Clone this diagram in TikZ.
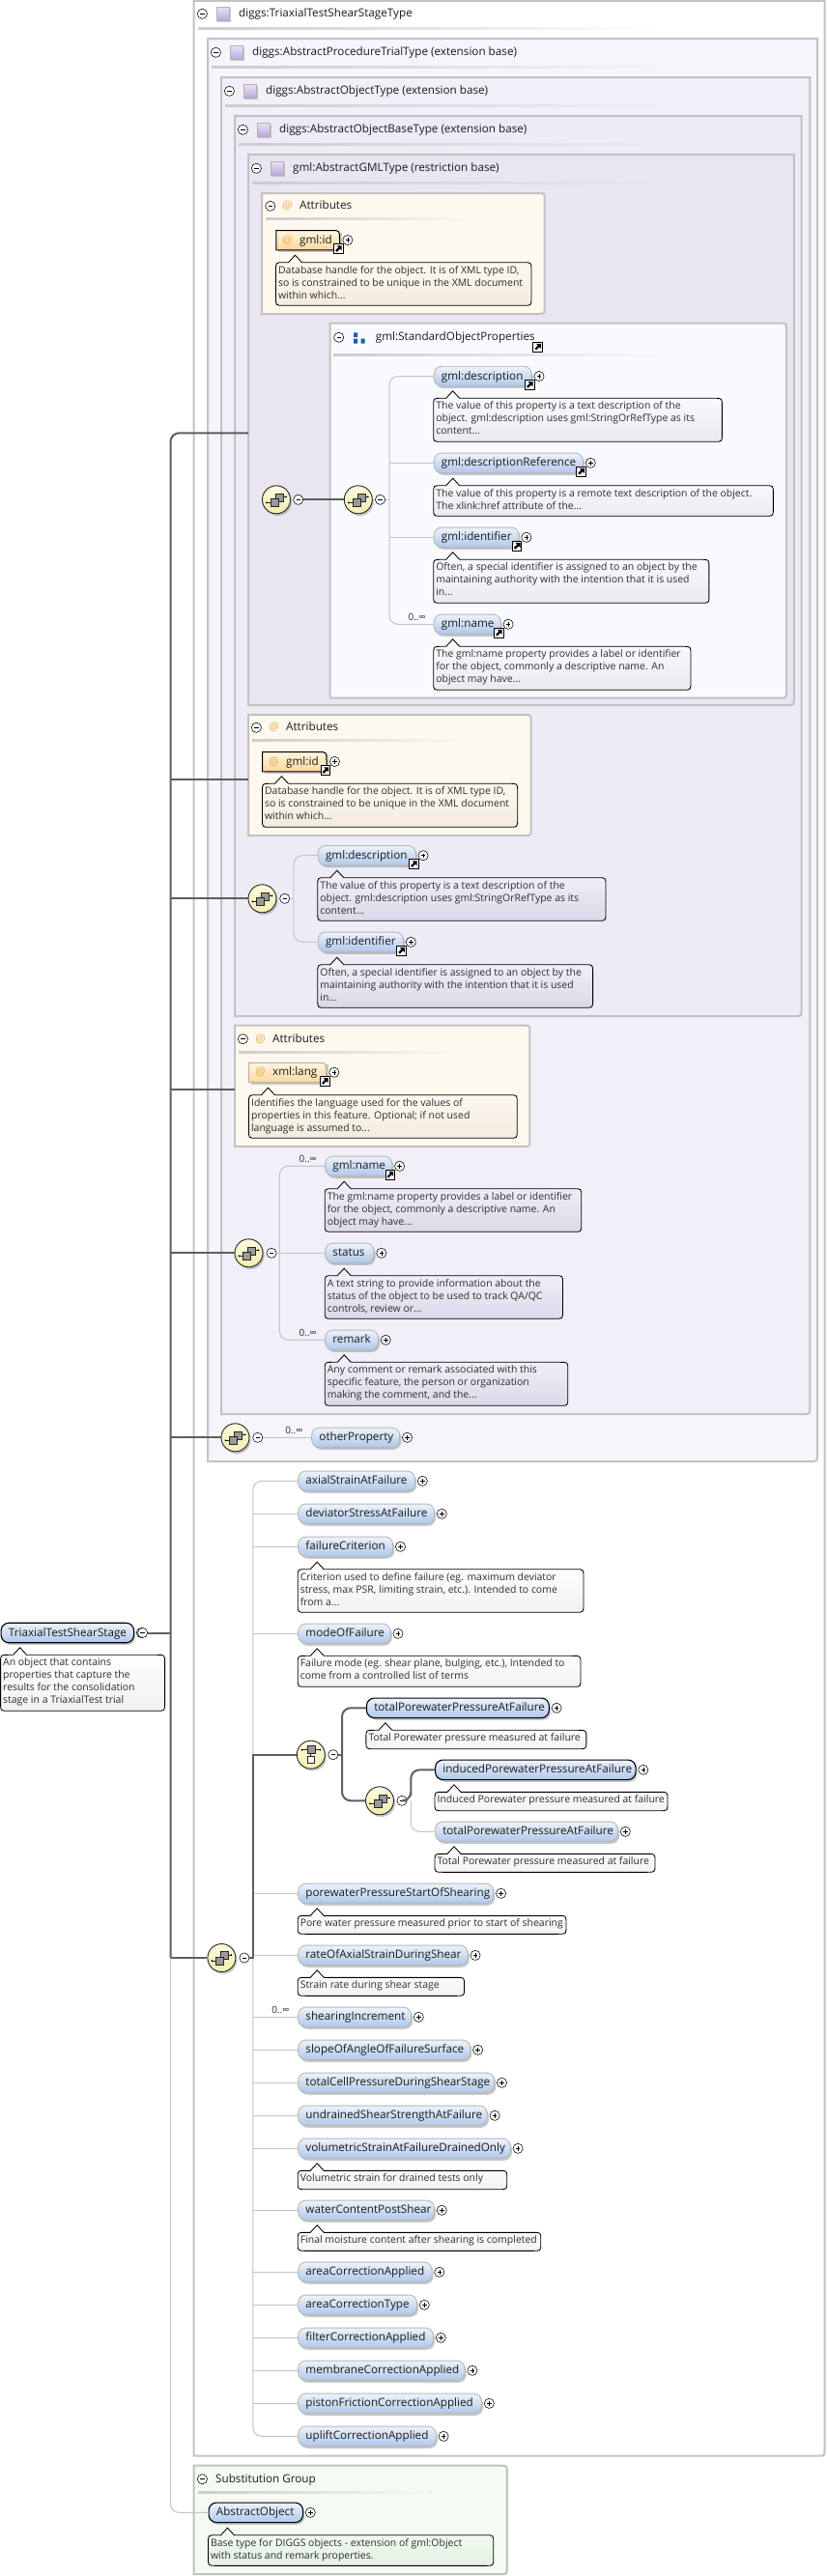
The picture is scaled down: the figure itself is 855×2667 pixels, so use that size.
\documentclass[tikz,border=0pt]{standalone}
\usepackage{fontspec}
\setmainfont{Open Sans}
\usetikzlibrary{shadows}
\definecolor{panelline}{HTML}{C2C2C2}
\definecolor{liteline}{HTML}{C4C4C4}
\definecolor{darkline}{HTML}{5E5E5E}
\definecolor{bgA}{HTML}{F6F5FB}
\definecolor{bgB}{HTML}{F1EFF8}
\definecolor{bgC}{HTML}{EDEBF5}
\definecolor{bgD}{HTML}{E9E6F2}
\definecolor{bgSop}{HTML}{F9FAFE}
\definecolor{bgAttr}{HTML}{FEF9EF}
\definecolor{bgSub}{HTML}{F3FBF3}
\definecolor{orangeAt}{HTML}{F0A84A}
\definecolor{bluesq}{HTML}{1D5FA8}
\definecolor{txt}{HTML}{1C1C1C}
\definecolor{doctxt}{HTML}{2E2E2E}
\newcommand{\hdrfont}{\fontsize{11.7}{13}\selectfont}
\newcommand{\docfont}{\fontsize{10.45}{13}\selectfont}
\tikzset{
  panelb/.style={draw=panelline,line width=2pt},
  lite/.style={draw=liteline,line width=1pt},
  dark/.style={draw=darkline,line width=2pt},
  softshadow/.style={drop shadow={shadow xshift=1.6pt,shadow yshift=-2.2pt,fill=black!55,opacity=.4}},
  elem/.style={rectangle,rounded corners=8pt,draw=black!28,line width=.9pt,
     anchor=west,inner xsep=7.8pt,inner ysep=0pt,minimum height=20.5pt,text height=9pt,text depth=2pt,align=left,font=\hdrfont,text=txt,softshadow},
  elemtone/.style={top color={rgb,255:red,238;green,243;blue,251},bottom color={rgb,255:red,174;green,199;blue,234}},
  req/.style={draw=black,line width=1.1pt},
  plusn/.style={circle,draw=black,fill=white,line width=.55pt,minimum size=10.2pt,inner sep=0pt,
     path picture={\draw[line width=.5pt,shift={(path picture bounding box.center)}] (-2.2,0)--(2.2,0) (0,-2.2)--(0,2.2);}},
  minusn/.style={circle,draw=black,fill=white,line width=.55pt,minimum size=10.2pt,inner sep=0pt,
     path picture={\draw[line width=.5pt,shift={(path picture bounding box.center)}] (-2.2,0)--(2.2,0);}},
  linkn/.style={rectangle,draw=black,fill=white,line width=.9pt,minimum size=9.6pt,inner sep=0pt,
     path picture={\begin{scope}[shift={(path picture bounding box.center)}]
        \fill[black] (3.4,-3.4)--(-1.6,-3.4)--(.1,-1.7)--(-3.2,1.6)--(-1.6,3.2)--(1.7,-.1)--(3.4,1.6)--cycle;\end{scope}}},
  hdr/.style={anchor=west,inner sep=0pt,font=\hdrfont,text=txt,text height=9pt,text depth=2pt},
  att/.style={anchor=center,inner sep=0pt,font=\hdrfont,text=orangeAt},
  occ/.style={anchor=center,inner sep=0pt,font=\fontsize{10}{11}\selectfont,text=doctxt},
  doct/.style={anchor=north west,inner sep=0pt,align=left,font=\docfont,text=doctxt},
  comp/.style={circle,draw=black!85,line width=.9pt,minimum size=29pt,inner sep=0pt,top color={rgb,255:red,253;green,251;blue,222},bottom color={rgb,255:red,243;green,237;blue,176},softshadow},
  seqicon/.style={path picture={\begin{scope}[shift={(path picture bounding box.center)}]
      \draw[line width=.7pt] (-10,3)--(-5,3) (5,-3)--(10,-3);
      \fill (-10,3) circle (1) (10,-3) circle (1);
      \draw[fill=black!40,line width=.5pt] (-1,-6.5) rectangle (7,1.5);
      \draw[fill=black!40,line width=.5pt] (-6,-1) rectangle (2,7);
      \end{scope}}},
  choiceicon/.style={path picture={\begin{scope}[shift={(path picture bounding box.center)}]
      \draw[line width=.7pt] (-9.5,-5)--(9.5,-5) (0,-1)--(0,2);
      \fill (-9.5,-5) circle (1) (9.5,-5) circle (1);
      \draw[fill=black!40,line width=.5pt] (-4,-9) rectangle (4,-1);
      \draw[fill=white,line width=.6pt] (-3.5,2) rectangle (3.5,9);
      \end{scope}}},
  doclav/.style={top color={rgb,255:red,243;green,241;blue,249},bottom color={rgb,255:red,221;green,216;blue,233}},
  docsop/.style={top color={rgb,255:red,251;green,252;blue,255},bottom color={rgb,255:red,232;green,234;blue,240}},
  docattr/.style={top color={rgb,255:red,255;green,251;blue,243},bottom color={rgb,255:red,243;green,235;blue,222}},
  docwhite/.style={top color=white,bottom color={rgb,255:red,242;green,242;blue,242}},
  docgreen/.style={top color={rgb,255:red,245;green,252;blue,245},bottom color={rgb,255:red,226;green,240;blue,226}},
  attrfill/.style={top color={rgb,255:red,255;green,246;blue,226},bottom color={rgb,255:red,252;green,215;blue,156}},
}
\newcommand{\Panel}[6]{%
  \path[panelb,fill=#6] (#2,#3)--(#4,#3)--(#4,{#5-7}) .. controls (#4,#5) .. ({#4-7},#5)--(#2,#5)--cycle;
  \node[inner sep=0pt,minimum width={(#4-#2)*1pt},minimum height={(#5-#3)*1pt},anchor=north west] (#1) at (#2,#3) {};}
\newcommand{\RPanel}[6]{%
  \path[panelb,fill=#6] (#2,#3)--({#4-7},#3) .. controls (#4,#3) .. (#4,{#3+7})--(#4,{#5-7}) .. controls (#4,#5) .. ({#4-7},#5)--(#2,#5)--cycle;
  \node[inner sep=0pt,minimum width={(#4-#2)*1pt},minimum height={(#5-#3)*1pt},anchor=north west] (#1) at (#2,#3) {};}
\newcommand{\Divider}[4]{\fill[left color=black!20,right color=#4] (#1,{#3-1}) rectangle (#2,{#3+1});}
\newcommand{\Elem}[6][]{%
  \node[elem,elemtone,#1,minimum width={(#4-#3)*1pt},text width={(#4-#3-15.6)*1pt}] (#2) at (#3,#5) {\mbox{#6}};
  \node[plusn] (#2p) at ({#4+8.3},#5) {};}
\newcommand{\ElemL}[6][]{%
  \Elem[#1]{#2}{#3}{#4}{#5}{#6}
  \node[linkn] (#2l) at ({#4-1.5},{#5+9}) {};}
\newcommand{\AttrElem}[8][black]{%
  \fill[black!50,opacity=.4] ({#3+2},{#5-8}) rectangle ({#4+2},{#5+12.5});
  \path[draw=#1,line width=1pt,attrfill] (#3,{#5-10})--({#4-9},{#5-10}) .. controls (#4,{#5-10}) .. (#4,{#5-1})--(#4,{#5+10.4})--(#3,{#5+10.4})--cycle;
  \node[att] (#2a) at (#6,#5) {@};
  \node[hdr] (#2) at (#7,#5) {#8};
  \node[plusn] (#2p) at ({#4+8.4},#5) {};
  \node[linkn] (#2l) at ({#4-1.2},{#5+9.2}) {};}
\newcommand{\Doc}[7][docwhite]{%
  \path[draw=black,line width=.85pt,#1] ({#3+8},#5)--({#3+13},#5)--({#3+20},{#5-7.5})--({#3+27},#5)--({#4-8},#5) .. controls (#4,#5) .. (#4,{#5+8})
     --(#4,{#6-8}) .. controls (#4,#6) .. ({#4-8},#6)--({#3+8},#6) .. controls (#3,#6) .. (#3,{#6-8})--(#3,{#5+8}) .. controls (#3,#5) .. cycle;
  \node[doct] (#2) at ({#3+2.4},{#5+3.3}) {#7};}
\newcommand{\Comp}[5][seqicon]{%
  \node[comp,#1] (#2) at (#3,#4) {};
  \node[minusn] (#2m) at (#5,#4) {};}
\begin{document}
\begin{tikzpicture}[x=1pt,y=-1pt]
\useasboundingbox (0,0) rectangle (855,2667);
\fill[white] (0,0) rectangle (855,2667);
\Panel{boxA}{200.6}{0.8}{853.5}{2542.7}{white}
\Divider{205}{690}{29}{white}
\node[minusn] (boxAm) at (209.4,14.3) {};
\node[hdr] (boxAt) at (247,14.3) {diggs:TriaxialTestShearStageType};
\Panel{boxB}{215}{40}{846}{1513}{bgA}
\Divider{219}{690}{69}{bgA}
\node[minusn] (boxBm) at (223.4,54.3) {};
\node[hdr] (boxBt) at (261,54.3) {diggs:AbstractProcedureTrialType (extension base)};
\Panel{boxC}{229}{80}{838.4}{1464}{bgB}
\Divider{233}{690}{109}{bgB}
\node[minusn] (boxCm) at (237.4,94.3) {};
\node[hdr] (boxCt) at (275,94.3) {diggs:AbstractObjectType (extension base)};
\Panel{boxD}{243}{120}{829.7}{1052}{bgC}
\Divider{247}{690}{149}{bgC}
\node[minusn] (boxDm) at (251.4,134.3) {};
\node[hdr] (boxDt) at (289,134.3) {diggs:AbstractObjectBaseType (extension base)};
\Panel{boxE}{257}{160}{821.8}{730}{bgD}
\Divider{261}{690}{189}{bgD}
\node[minusn] (boxEm) at (265.4,174.3) {};
\node[hdr] (boxEt) at (303,174.3) {gml:AbstractGMLType (restriction base)};
\foreach \ix/\iy in {230.8/14.3,244.8/54.3,258.8/94.3,272.8/134.3,286.8/174.3}{
  \fill[black!45,opacity=.45] ({\ix-5.5},{\iy-5}) rectangle ({\ix+8},{\iy+8.5});
  \path[draw=black!30,line width=.5pt,top color={rgb,255:red,232;green,226;blue,245},bottom color={rgb,255:red,186;green,170;blue,222}] ({\ix-6.5},{\iy-7}) rectangle ({\ix+6.5},{\iy+6.5});
}
\RPanel{attA}{271}{200}{563.7}{325}{bgAttr}
\Divider{275}{489}{226.7}{bgAttr}
\node[minusn] (attAm) at (279.8,213.3) {};
\node[att] (attAa) at (297.7,213.3) {@};
\node[hdr] (attAt) at (310,213.3) {Attributes};
\AttrElem{idA}{285.8}{351.5}{248.5}{297.7}{310}{gml:id}
\Doc[docattr]{idAd}{285.5}{550}{271.7}{316.3}{Database handle for the object. It is of XML type ID,\\so is constrained to be unique in the XML document\\within which...}
\RPanel{sop}{341.5}{334.7}{814}{722.7}{bgSop}
\Divider{345}{695}{367.7}{bgSop}
\node[minusn] (sopm) at (350.7,349.3) {};
\fill[bluesq] (366,344.3) rectangle (370.2,349) (366,350.7) rectangle (370.2,355.5) (373.5,350.7) rectangle (377.7,355.5);
\node[hdr] (sopt) at (388.7,349.3) {gml:StandardObjectProperties};
\node[linkn] (sopl) at (556.7,359.3) {};
\ElemL{sdesc}{448.7}{549.7}{389.5}{gml:description}
\Doc[docsop]{sdescd}{448.7}{747.4}{412.3}{457.3}{The value of this property is a text description of the\\object. gml:description uses gml:StringOrRefType as its\\content...}
\ElemL{sdref}{448.7}{603}{479.3}{gml:descriptionReference}
\Doc[docsop]{sdrefd}{448.7}{800.4}{502.7}{534.3}{The value of this property is a remote text description of the object.\\The xlink:href attribute of the...}
\ElemL{sident}{448.7}{536.6}{556.3}{gml:identifier}
\Doc[docsop]{sidentd}{448.7}{733.9}{579.3}{624.3}{Often, a special identifier is assigned to an object by the\\maintaining authority with the intention that it is used\\in...}
\ElemL{sname}{448.7}{517.8}{646.3}{gml:name}
\node[occ] (snameo) at (431.6,639) {0..∞};
\Doc[docsop]{snamed}{448.7}{715}{669.3}{714.3}{The gml:name property provides a label or identifier\\for the object, commonly a descriptive name. An\\object may have...}
\Comp{cA}{286}{517.3}{308.7}
\Comp{cB}{370.8}{517.3}{393.5}
\RPanel{attB}{257}{740}{549.7}{865}{bgAttr}
\Divider{261}{480}{766.7}{bgAttr}
\node[minusn] (attBm) at (265.4,753.3) {};
\node[att] (attBa) at (283.7,753.3) {@};
\node[hdr] (attBt) at (296,753.3) {Attributes};
\AttrElem{idB}{271.5}{338}{788.5}{283.7}{296}{gml:id}
\Doc[docattr]{idBd}{271.5}{535.7}{811.3}{856.3}{Database handle for the object. It is of XML type ID,\\so is constrained to be unique in the XML document\\within which...}
\Comp{cC}{271.5}{930.3}{294.7}
\ElemL{bdesc}{328.8}{429.8}{885.7}{gml:description}
\Doc[doclav]{bdescd}{328.8}{627}{908.7}{953.3}{The value of this property is a text description of the\\object. gml:description uses gml:StringOrRefType as its\\content...}
\ElemL{bident}{328.8}{417}{975.3}{gml:identifier}
\Doc[doclav]{bidentd}{328.8}{613.6}{998.7}{1043.3}{Often, a special identifier is assigned to an object by the\\maintaining authority with the intention that it is used\\in...}
\RPanel{attC}{243}{1061.7}{548.4}{1187}{bgAttr}
\Divider{247}{472}{1089}{bgAttr}
\node[minusn] (attCm) at (251.4,1075.7) {};
\node[att] (attCa) at (269.7,1075.7) {@};
\node[hdr] (attCt) at (282,1075.7) {Attributes};
\AttrElem[black!30]{xlang}{257.5}{337.5}{1110.3}{269.7}{282}{xml:lang}
\Doc[docattr]{xlangd}{257.5}{535.3}{1133.7}{1178.3}{Identifies the language used for the values of\\properties in this feature. Optional; if not used\\language is assumed to...}
\Comp{cD}{257.5}{1297.3}{281}
\ElemL{oname}{336.2}{405.3}{1207.3}{gml:name}
\node[occ] (onameo) at (318.7,1200.3) {0..∞};
\Doc[doclav]{onamed}{336.2}{601.8}{1230.7}{1275.3}{The gml:name property provides a label or identifier\\for the object, commonly a descriptive name. An\\object may have...}
\Elem{status}{336.2}{386.5}{1297.3}{status}
\Doc[doclav]{statusd}{336.2}{582.5}{1320.7}{1365.3}{A text string to provide information about the\\status of the object to be used to track QA/QC\\controls, review or...}
\Elem{remark}{336.2}{391}{1387.3}{remark}
\node[occ] (remarko) at (318.7,1380.3) {0..∞};
\Doc[doclav]{remarkd}{336.2}{587.8}{1410.3}{1455.3}{Any comment or remark associated with this\\specific feature, the person or organization\\making the comment, and the...}
\Comp{cE}{243.5}{1488.3}{266.7}
\Elem{other}{322.2}{413.2}{1488.3}{otherProperty}
\node[occ] (othero) at (304.3,1481.3) {0..∞};
\Comp{cF}{229.4}{2027}{252.9}
\Elem{axial}{308.2}{429}{1533.3}{axialStrainAtFailure}
\Elem{devi}{308.2}{449}{1567.3}{deviatorStressAtFailure}
\Elem{failc}{308.2}{406.2}{1601.3}{failureCriterion}
\Doc{failcd}{308.2}{604}{1624.7}{1669.3}{Criterion used to define failure (eg. maximum deviator\\stress, max PSR, limiting strain, etc.). Intended to come\\from a...}
\Elem{modef}{308.2}{403.7}{1691.3}{modeOfFailure}
\Doc{modefd}{308.2}{601}{1714.3}{1746.3}{Failure mode (eg. shear plane, bulging, etc.), Intended to\\come from a controlled list of terms}
\Comp[choiceicon]{cG}{321.8}{1816.7}{344.8}
\Elem[req]{tpwA}{378.9}{567.8}{1768.3}{totalPorewaterPressureAtFailure}
\Doc{tpwAd}{378.9}{606.9}{1791.3}{1810.7}{Total Porewater pressure measured at failure}
\Comp{cH}{393}{1864.3}{416}
\Elem[req]{ipw}{450}{657.5}{1832.3}{inducedPorewaterPressureAtFailure}
\Doc{ipwd}{450}{691}{1855.3}{1874.7}{Induced Porewater pressure measured at failure}
\Elem{tpwB}{450}{639}{1896.3}{totalPorewaterPressureAtFailure}
\Doc{tpwBd}{450}{678}{1919.3}{1938.3}{Total Porewater pressure measured at failure}
\Elem{pwstart}{308.2}{510.3}{1960.3}{porewaterPressureStartOfShearing}
\Doc{pwstartd}{308.2}{586}{1983.3}{2002.3}{Pore water pressure measured prior to start of shearing}
\Elem{rate}{308.2}{483.7}{2024.3}{rateOfAxialStrainDuringShear}
\Doc{rated}{308.2}{480.6}{2047.3}{2066.3}{Strain rate during shear stage}
\Elem{shinc}{308.2}{425}{2088.3}{shearingIncrement}
\node[occ] (shinco) at (290.3,2081.3) {0..∞};
\Elem{slope}{308.2}{486.3}{2122.3}{slopeOfAngleOfFailureSurface}
\Elem{tcell}{308.2}{511.2}{2156.3}{totalCellPressureDuringShearStage}
\Elem{undr}{308.2}{503.8}{2190.3}{undrainedShearStrengthAtFailure}
\Elem{volu}{308.2}{527.8}{2224.3}{volumetricStrainAtFailureDrainedOnly}
\Doc{volud}{308.2}{524.8}{2247.3}{2266.7}{Volumetric strain for drained tests only}
\Elem{water}{308.2}{449}{2288.3}{waterContentPostShear}
\Doc{waterd}{308.2}{559.8}{2311.3}{2330.3}{Final moisture content after shearing is completed}
\Elem{areaA}{308.2}{446.5}{2352.3}{areaCorrectionApplied}
\Elem{areaT}{308.2}{431}{2386.3}{areaCorrectionType}
\Elem{filt}{308.2}{448}{2420.3}{filterCorrectionApplied}
\Elem{memb}{308.2}{480.6}{2454.3}{membraneCorrectionApplied}
\Elem{pist}{308.2}{498}{2488.3}{pistonFrictionCorrectionApplied}
\Elem{upli}{308.2}{450.8}{2522.3}{upliftCorrectionApplied}
\RPanel{subs}{200.6}{2552.7}{524.8}{2665}{bgSub}
\Divider{205}{445.6}{2580}{bgSub}
\node[minusn] (subsm) at (209.4,2566.7) {};
\node[hdr] (subst) at (223,2566.7) {Substitution Group};
\Elem[req]{abso}{215.5}{313}{2601.3}{AbstractObject}
\Doc[docgreen]{absod}{215.5}{510.8}{2624.7}{2656.3}{Base type for DIGGS objects - extension of gml:Object\\with status and remark properties.}
\Elem[req]{root}{.6}{138}{1690.5}{TriaxialTestShearStage}
\Doc{rootd}{.6}{170.6}{1713.3}{1771.3}{An object that contains\\properties that capture the\\results for the consolidation\\stage in a TriaxialTest trial}
\coordinate (busx) at (176.5,1690.5);
\coordinate (sopbus) at (403,517.3);
\coordinate (bbus) at (303.9,930.3);
\coordinate (obus) at (289.4,1297.3);
\coordinate (mbus) at (261.9,2027);
\coordinate (chbus) at (354,1816.7);
\coordinate (hbus) at (425.3,1864.3);
\draw[lite,rounded corners=9pt] (sdesc.west) -| (sopbus) |- (sname.west);
\draw[lite] (sdref.west) -- (sdref.west -| sopbus);
\draw[lite] (sident.west) -- (sident.west -| sopbus);
\draw[lite] (cBm.east) -- (sopbus);
\draw[lite,rounded corners=9pt] (bdesc.west) -| (bbus) |- (bident.west);
\draw[lite] (cCm.east) -- (bbus);
\draw[lite,rounded corners=9pt] (oname.west) -| (obus) |- (remark.west);
\draw[lite] (cDm.east) -- (status.west);
\draw[lite] (cEm.east) -- (other.west);
\draw[lite,rounded corners=9pt] (axial.west) -| (mbus) |- (upli.west);
\foreach \n in {devi,failc,modef,pwstart,rate,shinc,slope,tcell,undr,volu,water,areaA,areaT,filt,memb,pist}{
  \draw[lite] (\n.west) -- (\n.west -| mbus);
}
\draw[lite,rounded corners=9pt] (hbus) |- (tpwB.west);
\draw[lite,rounded corners=9pt] (busx) |- (abso.west);
\coordinate (tA) at (176.5,448.3);
\coordinate (tB) at (176.5,806.7);
\coordinate (tC) at (176.5,1128.3);
\node[minusn] (rootm) at (147.6,1690.5) {};
\draw[dark] (cF.west) -- (cF.west -| busx);
\draw[dark,rounded corners=9pt] (cF.west -| busx) |- (tA -| boxE.west);
\draw[dark] (rootm.east) -- (busx);
\draw[dark] (tB) -- (tB -| attB.west);
\draw[dark] (tC) -- (tC -| attC.west);
\draw[dark] (cC.west -| busx) -- (cC.west);
\draw[dark] (cD.west -| busx) -- (cD.west);
\draw[dark] (cE.west -| busx) -- (cE.west);
\draw[dark] (cAm.east) -- (cB.west);
\draw[dark] (cFm.east) -| (mbus) |- (cG.west);
\draw[dark] (cGm.east) -- (chbus);
\draw[dark,rounded corners=9pt] (tpwA.west) -| (chbus) |- (cH.west);
\draw[dark,rounded corners=9pt] (cHm.east) -| (hbus) |- (ipw.west);
\end{tikzpicture}
\end{document}
